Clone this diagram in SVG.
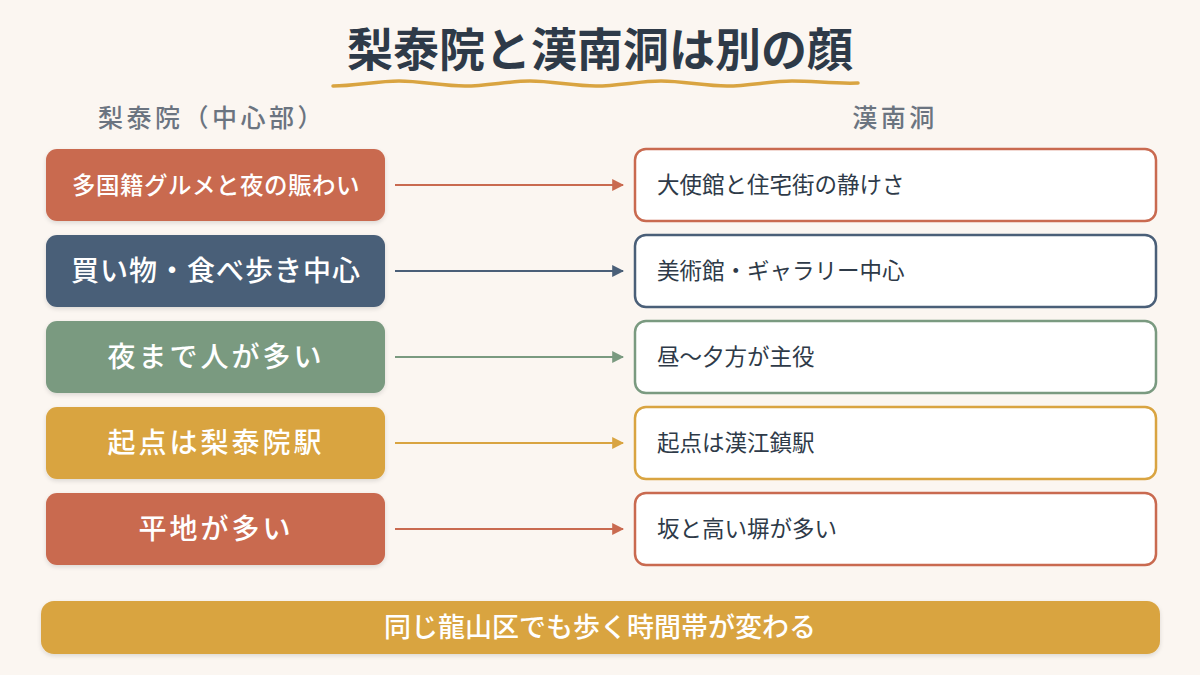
<svg xmlns="http://www.w3.org/2000/svg" width="1200" height="675" viewBox="0 0 1200 675">
<defs>
<style>
.t{font-family:"Noto Sans CJK JP","Noto Sans",sans-serif}
.title{font-size:46px;font-weight:700;fill:#2E3A48}
.hdr{font-size:25px;font-weight:500;fill:#6B7480;letter-spacing:3.5px}
.lt{font-size:28px;font-weight:500;fill:#FFFFFF;letter-spacing:3px}
.rt{font-size:22.5px;font-weight:400;fill:#2E3A48}
.rbox{fill:#FFFFFF;stroke-width:2.5}
</style>
<filter id="sh" x="-10%" y="-20%" width="120%" height="150%">
<feDropShadow dx="0" dy="2" stdDeviation="2" flood-color="#000" flood-opacity="0.12"/>
</filter>
<marker id="a1" viewBox="0 0 10 10" refX="9" refY="5" markerWidth="12" markerHeight="12" markerUnits="userSpaceOnUse" orient="auto"><path d="M0,0 L10,5 L0,10 z" fill="#C96A50"/></marker>
<marker id="a2" viewBox="0 0 10 10" refX="9" refY="5" markerWidth="12" markerHeight="12" markerUnits="userSpaceOnUse" orient="auto"><path d="M0,0 L10,5 L0,10 z" fill="#4A5F78"/></marker>
<marker id="a3" viewBox="0 0 10 10" refX="9" refY="5" markerWidth="12" markerHeight="12" markerUnits="userSpaceOnUse" orient="auto"><path d="M0,0 L10,5 L0,10 z" fill="#7A9A80"/></marker>
<marker id="a4" viewBox="0 0 10 10" refX="9" refY="5" markerWidth="12" markerHeight="12" markerUnits="userSpaceOnUse" orient="auto"><path d="M0,0 L10,5 L0,10 z" fill="#D9A441"/></marker>
</defs>
<rect width="1200" height="675" fill="#FBF6F1"/>
<g id="title">
<text class="t title" x="600" y="66" text-anchor="middle">梨泰院と漢南洞は別の顔</text>
<path d="M333,86 C355,86 377,81 399,81 C421,81 443,86 465,86 C487,86 509,81 530,81 C552,81 574,86 596,86 C618,86 640,81 661,81 C683,81 705,86 727,86 C749,86 771,81 792,81 C814,81 836,84 858,83" fill="none" stroke="#D9A441" stroke-width="3.5" stroke-linecap="round"/>
</g>
<g id="headers">
<text class="t hdr" x="212" y="127" text-anchor="middle">梨泰院（中心部）</text>
<text class="t hdr" x="895" y="127" text-anchor="middle">漢南洞</text>
</g>
<g id="connectors" stroke-width="2">
<line x1="395" y1="185" x2="623" y2="185" stroke="#C96A50" marker-end="url(#a1)"/>
<line x1="395" y1="271" x2="623" y2="271" stroke="#4A5F78" marker-end="url(#a2)"/>
<line x1="395" y1="357" x2="623" y2="357" stroke="#7A9A80" marker-end="url(#a3)"/>
<line x1="395" y1="443" x2="623" y2="443" stroke="#D9A441" marker-end="url(#a4)"/>
<line x1="395" y1="529" x2="623" y2="529" stroke="#C96A50" marker-end="url(#a1)"/>
</g>
<g id="l1"><rect x="46" y="149" width="339" height="72" rx="11" fill="#C96A50" filter="url(#sh)"/><text class="t lt" x="216" y="194" text-anchor="middle" style="font-size:23.5px;letter-spacing:0.5px">多国籍グルメと夜の賑わい</text></g>
<g id="l2"><rect x="46" y="235" width="339" height="72" rx="11" fill="#4A5F78" filter="url(#sh)"/><text class="t lt" x="216" y="281" text-anchor="middle" style="letter-spacing:1px">買い物・食べ歩き中心</text></g>
<g id="l3"><rect x="46" y="321" width="339" height="72" rx="11" fill="#7A9A80" filter="url(#sh)"/><text class="t lt" x="216" y="367" text-anchor="middle">夜まで人が多い</text></g>
<g id="l4"><rect x="46" y="407" width="339" height="72" rx="11" fill="#D9A441" filter="url(#sh)"/><text class="t lt" x="216" y="453" text-anchor="middle">起点は梨泰院駅</text></g>
<g id="l5"><rect x="46" y="493" width="339" height="72" rx="11" fill="#C96A50" filter="url(#sh)"/><text class="t lt" x="216" y="539" text-anchor="middle">平地が多い</text></g>
<g id="r1"><rect class="rbox" x="635" y="149" width="521" height="72" rx="11" stroke="#C96A50"/><text class="t rt" x="657" y="193">大使館と住宅街の静けさ</text></g>
<g id="r2"><rect class="rbox" x="635" y="235" width="521" height="72" rx="11" stroke="#4A5F78"/><text class="t rt" x="657" y="279">美術館・ギャラリー中心</text></g>
<g id="r3"><rect class="rbox" x="635" y="321" width="521" height="72" rx="11" stroke="#7A9A80"/><text class="t rt" x="657" y="365">昼〜夕方が主役</text></g>
<g id="r4"><rect class="rbox" x="635" y="407" width="521" height="72" rx="11" stroke="#D9A441"/><text class="t rt" x="657" y="451">起点は漢江鎮駅</text></g>
<g id="r5"><rect class="rbox" x="635" y="493" width="521" height="72" rx="11" stroke="#C96A50"/><text class="t rt" x="657" y="537">坂と高い塀が多い</text></g>
<g id="footer"><rect x="41" y="601" width="1119" height="53" rx="13" fill="#D9A441" filter="url(#sh)"/><text class="t lt" x="600" y="637" text-anchor="middle" style="font-size:27px;font-weight:500;letter-spacing:0px">同じ龍山区でも歩く時間帯が変わる</text></g>
</svg>
